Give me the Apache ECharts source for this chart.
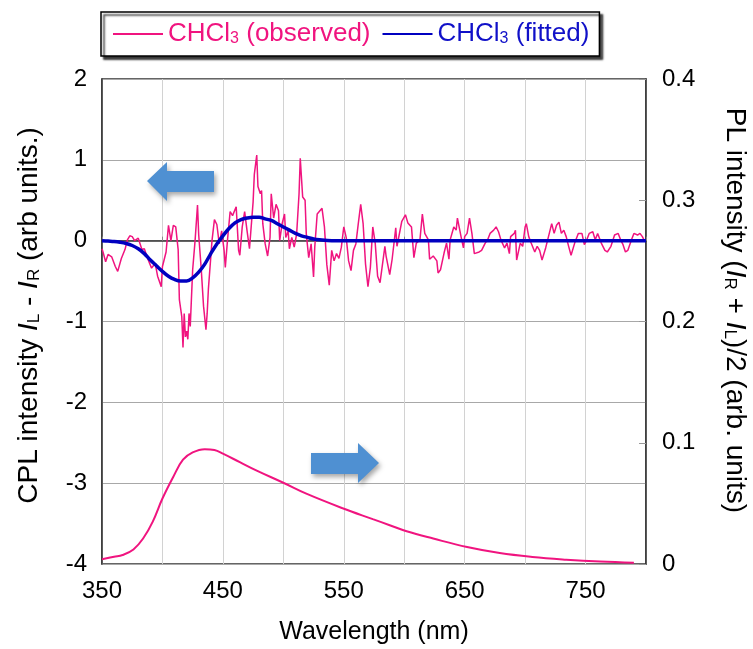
<!DOCTYPE html>
<html>
<head>
<meta charset="utf-8">
<script src="https://cdn.jsdelivr.net/npm/echarts@6/dist/echarts.min.js"></script>
<style>
  html, body { margin: 0; padding: 0; background: #fff; }
  #main { width: 753px; height: 649px; }
</style>
</head>
<body>
<div id="main"></div>
<script>
// observed CPL, [wavelength nm, value]
var obsData = [
  [350,-0.1],[351,-0.15],[353,-0.26],[355,-0.17],[358,-0.2],[361,-0.32],[363,-0.38],[366,-0.22],[369,-0.11],[371,0.01],
  [373,0.06],[375,0.05],[377,0.0],[380,0.03],[383,-0.11],[385,-0.1],[388,-0.23],[391,-0.34],[394,-0.28],[396,-0.44],
  [399,-0.57],[400,-0.32],[403,-0.14],[405,0.19],[407,0.0],[409,0.19],[411,0.17],[413,-0.11],[414,-0.73],[416,-0.94],
  [417,-1.32],[418,-0.9],[419,-1.19],[420,-1.12],[421,-1.22],[422,-0.9],[423,-1.06],[425,-0.36],[427,0.0],[429,0.44],
  [430,0.07],[432,-0.33],[434,-0.81],[436,-1.1],[437,-0.9],[438,-0.6],[441,0.0],[443,0.26],[445,0.2],[447,-0.04],
  [449,0.12],[451,-0.12],[452,-0.33],[454,0.04],[456,0.36],[458,0.31],[461,0.42],[463,-0.12],[464,-0.18],[466,0.17],
  [468,0.36],[470,0.12],[472,-0.1],[475,0.48],[476,0.82],[478,1.06],[479,0.67],[481,0.58],[482,0.62],[483,0.21],
  [485,-0.04],[487,-0.19],[489,0.04],[490,0.58],[492,0.28],[494,0.45],[496,0.37],[497,0.0],[499,0.21],[501,0.33],
  [502,0.04],[504,0.12],[505,-0.1],[507,0.04],[509,-0.08],[511,0.08],[513,0.58],[514,1.02],[516,0.54],[518,0.5],
  [519,0.08],[521,-0.21],[523,-0.04],[525,-0.45],[526,-0.08],[528,0.33],[532,0.4],[534,0.17],[536,-0.3],[538,-0.55],
  [540,-0.12],[542,-0.25],[544,-0.16],[546,-0.22],[548,-0.08],[550,0.17],[552,0.04],[554,-0.25],[556,-0.37],[558,-0.12],
  [560,-0.04],[562,0.21],[564,0.45],[566,0.21],[568,-0.29],[570,-0.57],[572,-0.33],[574,0.17],[576,-0.03],[578,-0.44],
  [580,-0.52],[584,-0.07],[585,-0.19],[588,-0.42],[590,-0.23],[593,0.16],[594,-0.07],[598,0.24],[601,0.32],[603,0.22],
  [606,0.17],[608,-0.21],[610,-0.03],[613,0.01],[615,0.33],[617,0.09],[620,0.01],[621,-0.23],[624,-0.19],[627,-0.25],
  [628,-0.4],[630,-0.36],[633,-0.15],[635,-0.03],[637,-0.23],[638,0.01],[641,0.17],[643,0.13],[644,0.28],[647,0.05],
  [649,-0.09],[650,0.05],[652,0.09],[654,0.28],[656,0.09],[658,-0.16],[662,-0.14],[664,-0.12],[667,-0.03],[669,0.01],
  [671,0.09],[674,0.13],[676,0.17],[678,0.11],[680,0.01],[683,-0.09],[685,-0.03],[687,-0.16],[688,0.05],[691,0.09],
  [692,0.13],[693,-0.24],[696,-0.03],[698,-0.07],[700,0.17],[701,0.21],[703,0.05],[705,-0.03],[708,-0.14],[710,-0.07],
  [712,-0.12],[714,-0.24],[717,-0.09],[720,0.09],[722,0.21],[724,0.09],[726,0.19],[728,0.23],[730,0.09],[732,0.13],
  [734,0.05],[736,-0.07],[738,-0.18],[741,-0.03],[744,0.09],[747,0.09],[749,-0.05],[751,0.01],[753,0.09],[756,0.11],
  [758,0.01],[760,0.09],[763,-0.03],[766,-0.12],[768,-0.14],[771,-0.07],[774,0.07],[777,0.09],[779,0.01],[781,-0.05],
  [783,-0.14],[785,-0.12],[788,0.01],[790,0.09],[793,0.07],[795,0.09],[797,0.05],[799,-0.01]
];

// fitted CPL
var fitWl  = [350,355,360,365,370,375,380,385,390,395,400,405,410,415,420,425,430,435,440,445,450,455,460,465,470,475,480,485,490,495,500,505,510,515,520,525,530,540,560,600,700,800];
var fitCpl = [0,-0.005,-0.01,-0.02,-0.035,-0.06,-0.1,-0.16,-0.24,-0.31,-0.38,-0.44,-0.48,-0.5,-0.5,-0.46,-0.39,-0.29,-0.16,-0.04,0.06,0.15,0.22,0.26,0.28,0.29,0.29,0.27,0.25,0.21,0.17,0.13,0.09,0.06,0.04,0.02,0.01,0,0,0,0,0];

// PL intensity (right axis)
var plWl  = [350,360,367,376,384,392,400,409,417,425,435,443,450,464,478,500,519,549,574,588,602,624,652,679,706,734,762,790];
var plVal = [0.004,0.006,0.0074,0.012,0.021,0.035,0.054,0.072,0.086,0.092,0.0947,0.094,0.091,0.084,0.077,0.067,0.058,0.046,0.037,0.032,0.027,0.021,0.014,0.009,0.0058,0.0036,0.002,0.001];

var xTicks = [350, 450, 550, 650, 750];

var pink = '#F0147F';
var blue = '#0000C0';
var font = '"Liberation Sans", Arial, sans-serif';

function pairs(xs, ys) {
  var out = [];
  for (var i = 0; i < xs.length; i++) out.push([xs[i], ys[i]]);
  return out;
}

var nameRich = {
  i: { fontSize: 28, fontStyle: 'italic', fontFamily: font },
  s: { fontSize: 17, fontFamily: font, verticalAlign: 'bottom' }
};

var chart = echarts.init(document.getElementById('main'));
var option = {
  animation: false,
  textStyle: { fontFamily: font, color: '#000' },
  grid: {
    left: 102, right: 107, top: 79, bottom: 85,
    outerBoundsMode: 'none',
    show: true, borderColor: '#333', borderWidth: 1.5
  },
  legend: {
    data: ['CHCl3 (observed)', 'CHCl3 (fitted)'],
    left: 101, top: 12,
    padding: [9, 10, 9, 11],
    itemWidth: 50, itemHeight: 14, itemGap: 11,
    itemStyle: { opacity: 0 },
    backgroundColor: '#fff',
    borderColor: '#000', borderWidth: 1.5,
    shadowColor: 'rgba(0,0,0,0.8)', shadowBlur: 2, shadowOffsetX: 3, shadowOffsetY: 3,
    formatter: function (name) {
      var k = name.indexOf('observed') > 0 ? 'p' : 'b';
      return '{' + k + '|CHCl}{' + k + 's|3}{' + k + '|' + name.slice(5) + '}';
    },
    textStyle: {
      rich: {
        p:  { color: pink, fontSize: 26, fontFamily: font },
        ps: { color: pink, fontSize: 16, fontFamily: font, verticalAlign: 'bottom' },
        b:  { color: '#1010C8', fontSize: 26, fontFamily: font },
        bs: { color: '#1010C8', fontSize: 16, fontFamily: font, verticalAlign: 'bottom' }
      }
    }
  },
  xAxis: {
    type: 'value', min: 350, max: 800, interval: 50,
    name: 'Wavelength (nm)', nameLocation: 'middle', nameGap: 56,
    nameTextStyle: { fontSize: 25, color: '#000' },
    axisLine: { show: true, lineStyle: { color: '#333', width: 1.5 } },
    axisTick: { show: true, inside: true, length: 4, lineStyle: { color: '#888' } },
    axisLabel: {
      fontSize: 24, color: '#000', margin: 15,
      formatter: function (v) { return xTicks.indexOf(v) >= 0 ? String(v) : ''; }
    },
    splitLine: { show: true, lineStyle: { color: '#D2D2D2', width: 1 } }
  },
  yAxis: [
    {
      type: 'value', min: -4, max: 2, interval: 1, position: 'left',
      name: 'CPL intensity {i|I}{s|L} - {i|I}{s|R} (arb units.)',
      nameLocation: 'middle', nameGap: 59,
      nameTextStyle: { fontSize: 28, color: '#000', rich: nameRich, padding: [0, 0, 0, 12] },
      axisLine: { show: true, lineStyle: { color: '#333', width: 1.5 } },
      axisTick: { show: false },
      axisLabel: { fontSize: 24, color: '#000', margin: 15 },
      splitLine: { show: true, lineStyle: { color: '#A8A8A8', width: 1.2 } }
    },
    {
      type: 'value', min: 0, max: 0.4, interval: 0.1, position: 'right',
      name: 'PL intensity ({i|I}{s|R} + {i|I}{s|L})/2 (arb. units)',
      nameLocation: 'middle', nameGap: 75, nameRotate: -90,
      nameTextStyle: { fontSize: 28, color: '#000', rich: nameRich, padding: [0, 22, 0, 0] },
      axisLine: { show: true, lineStyle: { color: '#333', width: 1.5 } },
      axisTick: { show: true, inside: true, length: 7, lineStyle: { color: '#999' } },
      axisLabel: { fontSize: 24, color: '#000', margin: 16 },
      splitLine: { show: false }
    }
  ],
  graphic: [
    {
      type: 'polygon', z: 10,
      shape: { points: [[147,181],[167,162],[167,171],[214,171],[214,192],[167,192],[167,201]] },
      style: { fill: '#4F90D2', shadowBlur: 5, shadowOffsetX: 2, shadowOffsetY: 3, shadowColor: 'rgba(0,0,0,0.35)' }
    },
    {
      type: 'polygon', z: 10,
      shape: { points: [[311,453],[358,453],[358,443],[379,463],[358,483],[358,474],[311,474]] },
      style: { fill: '#4F90D2', shadowBlur: 5, shadowOffsetX: 2, shadowOffsetY: 3, shadowColor: 'rgba(0,0,0,0.35)' }
    }
  ],
  series: [
    {
      name: 'CHCl3 (observed)', type: 'line', yAxisIndex: 0,
      symbol: 'none', data: obsData,
      lineStyle: { color: pink, width: 1.5 }, itemStyle: { color: pink }, z: 3
    },
    {
      name: 'CHCl3 (fitted)', type: 'line', yAxisIndex: 0,
      symbol: 'none', smooth: 0.35, data: pairs(fitWl, fitCpl),
      lineStyle: { color: blue, width: 3.5 }, itemStyle: { color: blue }, z: 4
    },
    {
      name: 'PL', type: 'line', yAxisIndex: 1,
      symbol: 'none', smooth: 0.4, data: pairs(plWl, plVal),
      lineStyle: { color: pink, width: 2 }, itemStyle: { color: pink }, z: 3
    }
  ]
};
chart.setOption(option);
</script>
</body>
</html>
